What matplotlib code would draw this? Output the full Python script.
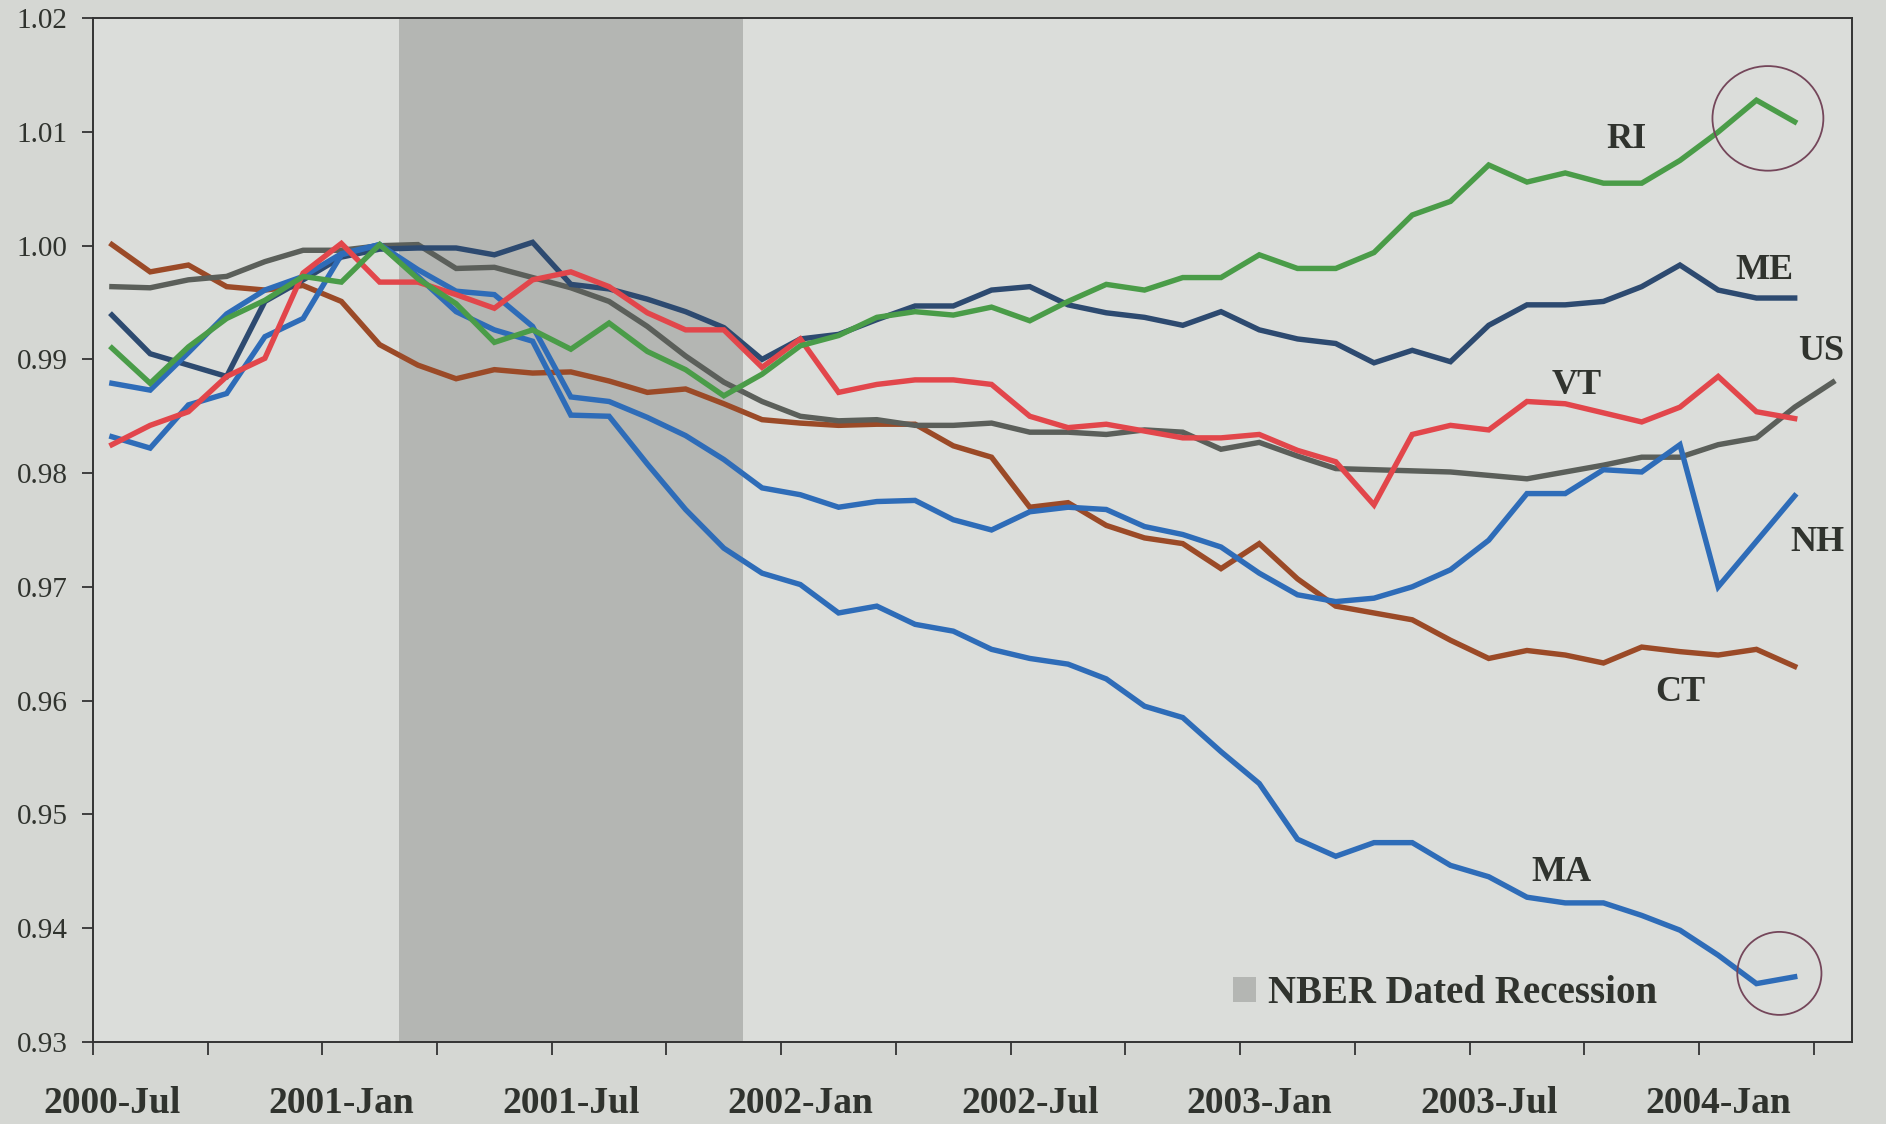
import matplotlib.pyplot as plt
import numpy as np
from matplotlib.patches import Patch, Ellipse

plt.rcParams['font.family'] = 'serif'
plt.rcParams['font.serif'] = ['Liberation Serif', 'DejaVu Serif']

# monthly categories, 2000-Jul .. 2004-Apr (46 months)
n_months = 46
tick_labels = ['2000-Jul', '2001-Jan', '2001-Jul', '2002-Jan',
               '2002-Jul', '2003-Jan', '2003-Jul', '2004-Jan']
tick_label_idx = [0, 6, 12, 18, 24, 30, 36, 42]
recession = (8, 16)   # 2001-Mar .. 2001-Nov

US = [0.9964, 0.9963, 0.9970, 0.9973, 0.9986, 0.9996, 0.9996, 1.0000, 1.0001, 0.9980,
      0.9981, 0.9972, 0.9963, 0.9951, 0.9929, 0.9903, 0.9880, 0.9863, 0.9850, 0.9846,
      0.9847, 0.9842, 0.9842, 0.9844, 0.9836, 0.9836, 0.9834, 0.9838, 0.9836, 0.9821,
      0.9827, 0.9815, 0.9804, 0.9803, 0.9802, 0.9801, 0.9798, 0.9795, 0.9801, 0.9807,
      0.9814, 0.9814, 0.9825, 0.9831, 0.9858, 0.9880]
CT = [1.0001, 0.9977, 0.9983, 0.9964, 0.9961, 0.9965, 0.9951, 0.9913, 0.9895, 0.9883,
      0.9891, 0.9888, 0.9889, 0.9881, 0.9871, 0.9874, 0.9861, 0.9847, 0.9844, 0.9842,
      0.9843, 0.9843, 0.9824, 0.9814, 0.9770, 0.9774, 0.9754, 0.9743, 0.9738, 0.9716,
      0.9738, 0.9707, 0.9683, 0.9677, 0.9671, 0.9653, 0.9637, 0.9644, 0.9640, 0.9633,
      0.9647, 0.9643, 0.9640, 0.9645, 0.9630]
ME = [0.9939, 0.9905, 0.9895, 0.9885, 0.9951, 0.9970, 0.9990, 0.9997, 0.9998, 0.9998,
      0.9992, 1.0003, 0.9966, 0.9962, 0.9953, 0.9942, 0.9928, 0.9900, 0.9918, 0.9922,
      0.9935, 0.9947, 0.9947, 0.9961, 0.9964, 0.9948, 0.9941, 0.9937, 0.9930, 0.9942,
      0.9926, 0.9918, 0.9914, 0.9897, 0.9908, 0.9898, 0.9930, 0.9948, 0.9948, 0.9951,
      0.9964, 0.9983, 0.9961, 0.9954, 0.9954]
NH = [0.9879, 0.9873, 0.9906, 0.9940, 0.9961, 0.9973, 0.9993, 1.0001, 0.9979, 0.9960,
      0.9957, 0.9929, 0.9867, 0.9863, 0.9849, 0.9833, 0.9812, 0.9787, 0.9781, 0.9770,
      0.9775, 0.9776, 0.9759, 0.9750, 0.9766, 0.9770, 0.9768, 0.9753, 0.9746, 0.9735,
      0.9712, 0.9693, 0.9687, 0.9690, 0.9700, 0.9715, 0.9741, 0.9782, 0.9782, 0.9803,
      0.9801, 0.9825, 0.9700, 0.9740, 0.9780]
MA = [0.9832, 0.9822, 0.9860, 0.9870, 0.9920, 0.9936, 0.9992, 1.0001, 0.9973, 0.9942,
      0.9926, 0.9916, 0.9851, 0.9850, 0.9808, 0.9768, 0.9734, 0.9712, 0.9702, 0.9677,
      0.9683, 0.9667, 0.9661, 0.9645, 0.9637, 0.9632, 0.9619, 0.9595, 0.9585, 0.9555,
      0.9527, 0.9478, 0.9463, 0.9475, 0.9475, 0.9455, 0.9445, 0.9427, 0.9422, 0.9422,
      0.9411, 0.9398, 0.9376, 0.9351, 0.9357]
VT = [0.9825, 0.9842, 0.9854, 0.9885, 0.9901, 0.9976, 1.0002, 0.9968, 0.9968, 0.9957,
      0.9945, 0.9970, 0.9977, 0.9964, 0.9941, 0.9926, 0.9926, 0.9893, 0.9918, 0.9871,
      0.9878, 0.9882, 0.9882, 0.9878, 0.9850, 0.9840, 0.9843, 0.9837, 0.9831, 0.9831,
      0.9834, 0.9820, 0.9810, 0.9772, 0.9834, 0.9842, 0.9838, 0.9863, 0.9861, 0.9853,
      0.9845, 0.9858, 0.9885, 0.9854, 0.9848]
RI = [0.9910, 0.9879, 0.9911, 0.9936, 0.9952, 0.9973, 0.9968, 1.0001, 0.9971, 0.9949,
      0.9915, 0.9926, 0.9909, 0.9932, 0.9907, 0.9891, 0.9868, 0.9887, 0.9912, 0.9921,
      0.9937, 0.9942, 0.9939, 0.9946, 0.9934, 0.9951, 0.9966, 0.9961, 0.9972, 0.9972,
      0.9992, 0.9980, 0.9980, 0.9994, 1.0027, 1.0039, 1.0071, 1.0056, 1.0064, 1.0055,
      1.0055, 1.0075, 1.0100, 1.0128, 1.0109]

series = [('CT', CT, '#9b4a27'), ('US', US, '#5b5f5a'), ('ME', ME, '#2d4a70'),
          ('NH', NH, '#2e6cb8'), ('MA', MA, '#2e6cb8'), ('VT', VT, '#e2464b'),
          ('RI', RI, '#4a9c48')]

# where the state names sit (category index, value)
label_pos = {'RI': (39.6, 1.0093), 'ME': (43.2, 0.9978), 'US': (44.7, 0.9907),
             'VT': (38.3, 0.9877), 'NH': (44.6, 0.9739), 'CT': (41.0, 0.9607),
             'MA': (37.9, 0.9449)}

text_col = '#30332e'
band_col = '#b4b6b3'

fig = plt.figure(figsize=(18.86, 11.24), dpi=100, facecolor='#d5d7d3')
ax = fig.add_axes([0.0492, 0.0733, 0.9328, 0.9104])
ax.set_facecolor('#dbddda')

ax.axvspan(recession[0] - 0.5, recession[1] + 0.5, color=band_col, lw=0, zorder=0)

for name, vals, col in series:
    ax.plot(np.arange(len(vals)), vals, color=col, lw=3.9, solid_joinstyle='miter', zorder=2)
    lx, ly = label_pos[name]
    ax.text(lx, ly, name, fontsize=26, fontweight='bold', color=text_col,
            ha='center', va='center', clip_on=False, zorder=1.5)

# pen circles drawn on the printout
ax.add_patch(Ellipse((43.3, 1.0112), 2.9, 0.0092, angle=0, fill=False,
                     ec='#74465a', lw=1.3, zorder=3))
ax.add_patch(Ellipse((43.6, 0.9360), 2.2, 0.0073, angle=0, fill=False,
                     ec='#74465a', lw=1.3, zorder=3))

ax.set_xlim(-0.5, n_months - 0.5)
ax.set_ylim(0.93, 1.02)

ax.set_xticks(np.arange(-0.5, n_months - 1, 3))
ax.set_xticks(tick_label_idx, tick_labels, minor=True)
ax.tick_params(axis='x', which='major', length=9.5, width=1.3, direction='out',
               labelbottom=False, color='#333333')
ax.tick_params(axis='x', which='minor', length=0, pad=32, labelsize=27,
               labelcolor=text_col)
for t in ax.get_xticklabels(minor=True):
    t.set_fontweight('bold')

ax.set_yticks(np.arange(0.93, 1.0201, 0.01))
ax.yaxis.set_major_formatter(plt.FormatStrFormatter('%.2f'))
ax.tick_params(axis='y', length=8, width=1.3, direction='out', pad=10,
               labelsize=21, labelcolor=text_col, color='#333333')

for sp in ax.spines.values():
    sp.set_color('#333333')
    sp.set_linewidth(1.4)

leg = ax.legend(handles=[Patch(facecolor=band_col, edgecolor='none')],
                labels=['NBER Dated Recession'], loc='lower left',
                bbox_to_anchor=(0.637, 0.010), frameon=False,
                handlelength=0.6, handleheight=0.6, handletextpad=0.3,
                borderpad=0, prop={'size': 28, 'weight': 'bold'})
for t in leg.get_texts():
    t.set_color(text_col)

plt.savefig('out.png', dpi=100, facecolor=fig.get_facecolor())
